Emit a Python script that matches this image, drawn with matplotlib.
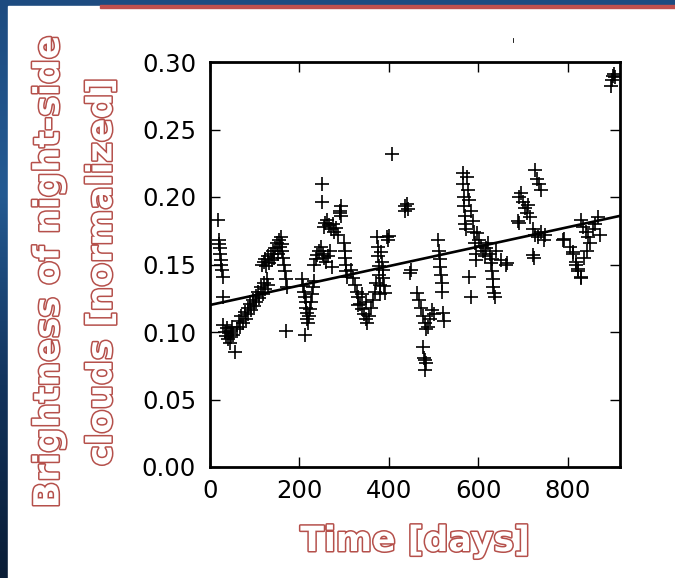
import numpy as np
import matplotlib.pyplot as plt
import matplotlib.patheffects as pe
from matplotlib.patches import Rectangle

time_days = [
    18, 20, 21, 22, 23, 24, 25, 27, 28, 30,
    30, 34, 36, 38, 40, 42, 44, 46, 48, 50, 52, 56,
    60, 64, 68, 70, 74, 78, 80, 84, 86, 90, 92, 96, 98, 102, 104, 108, 110, 114, 118, 120, 124, 128, 130,
    116, 120, 124, 126, 130, 132, 136, 138, 140, 144, 146, 150, 152, 154, 156, 158, 160, 162, 164, 166,
    168, 170, 172, 170, 213,
    206, 208, 210, 212, 214, 215, 216, 218, 220, 222, 224, 226, 228, 230, 232,
    232, 236, 240, 244, 248, 252, 256, 260, 264, 268, 272,
    254, 258, 262, 266, 270, 274, 278, 282, 286, 250, 250, 290, 291, 292, 294,
    300, 302, 302, 304, 304, 306,
    316, 320, 324, 328, 332, 336, 340, 344, 348, 352, 356, 360, 364, 368, 372, 330, 340, 350,
    374, 376, 376, 378, 378, 380, 380,
    382, 384, 386, 388, 390, 392, 395, 398, 400, 407,
    437, 440, 442, 436, 448, 450,
    510, 512, 514, 514, 516, 518, 518,
    464, 468, 472, 476, 480, 484, 488, 492, 496, 500, 522, 524,
    476, 478, 480, 482, 480,
    565, 566, 568, 568, 570, 570, 572,
    574, 578, 580, 584, 588, 590, 592, 594, 596, 580, 584,
    598, 602, 606, 610, 614, 618, 622, 626, 630, 640, 650,
    628, 630, 632, 634, 636, 638, 665, 662,
    728, 732, 736, 740, 692, 696, 700, 704, 708, 712, 716, 688, 690,
    722, 728, 734, 740, 746, 750, 722, 724,
    812, 818, 824, 830, 790, 792,
    830, 834, 840, 846, 850, 856, 862, 868, 872,
    806, 812, 818, 824, 830, 836, 844,
    896, 898, 902, 904, 906,
]
brightness = [
    .183, .168, .165, .162, .158, .153, .150, .146, .141, .126,
    .105, .100, .097, .103, .095, .099, .092, .101, .096, .104, .098, .085,
    .102, .108, .104, .112, .107, .115, .110, .118, .113, .121, .116, .124, .119, .127, .122, .130, .125, .133, .128, .136, .132, .139, .135,
    .150, .152, .154, .149, .156, .151, .158, .153, .160, .155, .162, .166, .158, .168, .163, .170, .160, .165, .155, .150,
    .145, .139, .133, .101, .098,
    .139, .134, .130, .126, .122, .118, .114, .110, .107, .112, .117, .122, .128, .133, .138,
    .150, .154, .157, .160, .163, .158, .155, .152, .156, .160, .148,
    .178, .181, .183, .179, .176, .180, .174, .177, .172, .210, .196, .190, .188, .193, .186,
    .166, .160, .155, .150, .145, .141,
    .146, .140, .135, .130, .126, .121, .117, .113, .110, .107, .112, .118, .124, .130, .136, .120, .128, .122,
    .170, .163, .156, .149, .142, .135, .128,
    .159, .152, .146, .140, .134, .129, .170, .168, .171, .232,
    .193, .195, .191, .190, .144, .146,
    .168, .160, .154, .148, .142, .136, .130,
    .129, .124, .118, .112, .107, .102, .104, .110, .116, .113, .114, .108,
    .089, .081, .079, .077, .072,
    .218, .210, .200, .193, .186, .180, .176,
    .215, .205, .198, .190, .182, .174, .166, .158, .153, .141, .126,
    .173, .168, .164, .160, .156, .162, .166, .158, .154, .160, .153,
    .151, .145, .139, .133, .129, .126, .151, .150,
    .220, .213, .210, .205, .200, .203, .196, .192, .188, .194, .185, .182, .181,
    .176, .172, .170, .174, .168, .172, .157, .155,
    .159, .152, .147, .141, .168, .169,
    .183, .178, .174, .170, .166, .176, .180, .185, .172,
    .163, .158, .150, .145, .140, .155, .160,
    .282, .287, .290, .291, .289,
]
trend_coef = [7.2e-5, 0.120]  # slope per day, intercept

x_ticks = [0, 200, 400, 600, 800]
y_ticks = [0.00, 0.05, 0.10, 0.15, 0.20, 0.25, 0.30]

red = '#b5504b'

fig = plt.figure(figsize=(6.75, 5.78), dpi=100)

# slide background: blue frame, white panel, red rule on top
bg = fig.add_axes([0, 0, 1, 1])
grad = np.linspace(0, 1, 256).reshape(-1, 1)
bg.imshow(grad, aspect='auto', cmap=plt.matplotlib.colors.LinearSegmentedColormap.from_list(
    'slide', ['#1d4b80', '#245a92', '#12335c', '#0a1d36']), extent=[0, 1, 0, 1])
bg.add_patch(Rectangle((8 / 675, 0), 1, 1 - 6 / 578, color='white', zorder=2))
bg.add_patch(Rectangle((100 / 675, 1 - 7.5 / 578), 1, 2.5 / 578, color='#c0504d', zorder=3))
bg.plot([513 / 675, 513 / 675], [1 - 38 / 578, 1 - 42 / 578], color='k', lw=0.6, zorder=3)
bg.set_xlim(0, 1)
bg.set_ylim(0, 1)
bg.axis('off')

ax = fig.add_axes([210 / 675, 1 - 467 / 578, 410 / 675, 405 / 578])
ax.plot(time_days, brightness, '+', color='k', ms=10, mew=1.2)
xx = np.array([0, 917])
ax.plot(xx, np.polyval(trend_coef, xx), color='k', lw=1.9)

ax.set_xlim(0, 917)
ax.set_ylim(0, 0.30)
ax.set_xticks(x_ticks)
ax.set_yticks(y_ticks)
ax.set_yticklabels(['%.2f' % v for v in y_ticks])
ax.tick_params(direction='in', length=7, width=1, top=True, right=True, labelsize=17.5)
ax.tick_params(axis='x', pad=9)
ax.tick_params(axis='y', pad=10)
for s in ax.spines.values():
    s.set_linewidth(2)

outline = [pe.Stroke(linewidth=2.2, foreground=red), pe.Normal()]
fig.text(415 / 675, 1 - 541 / 578, 'Time [days]', color='white', fontsize=25,
         fontweight='bold', ha='center', va='center', path_effects=outline)
fig.text(75 / 675, 1 - 272 / 578, 'Brightness of night-side\nclouds [normalized]',
         color='white', fontsize=25, fontweight='bold', rotation=90, ha='center',
         va='center', multialignment='center', linespacing=1.7, path_effects=outline)

fig.savefig('out.png', dpi=100)
